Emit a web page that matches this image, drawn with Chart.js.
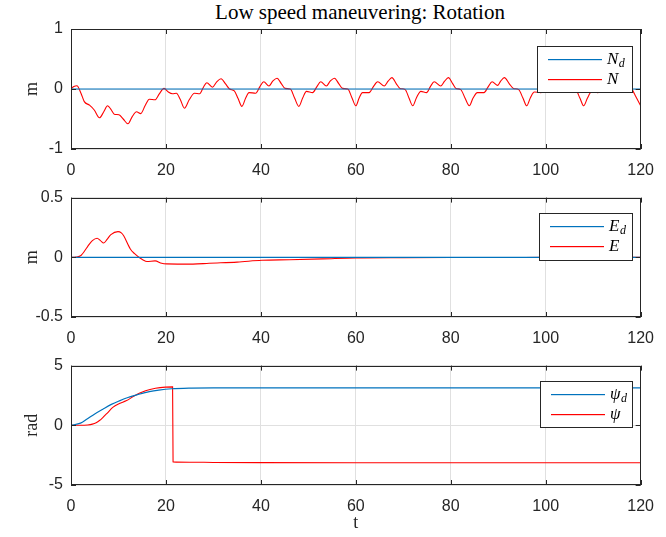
<!DOCTYPE html>
<html>
<head>
<meta charset="utf-8">
<script src="https://cdn.jsdelivr.net/npm/chart.js@4.4.0/dist/chart.umd.min.js"></script>
<style>
  body { margin: 0; background: #fff; width: 666px; height: 537px; overflow: hidden; position: relative; }
  canvas { position: absolute; left: 0; }
  #title { position: absolute; top: 2px; left: 71px; width: 578px; text-align: center;
           font: 21px "Liberation Serif", serif; line-height: 20px; color: #000; }
</style>
</head>
<body>
<div id="title">Low speed maneuvering: Rotation</div>
<canvas id="chartN" width="666" height="180" style="top:0"></canvas>
<canvas id="chartE" width="666" height="168" style="top:180px"></canvas>
<canvas id="chartPsi" width="666" height="189" style="top:348px"></canvas>
<script>

// north position (desired N_d is zero)
let tNd = [0, 120]
let Nd = [0, 0]
let tN = [0, 0.6, 1.25, 2.1, 2.8, 3.9, 4.9, 6.0, 6.9, 7.7, 8.5, 9.1, 10.1, 11.0, 12.0,
    12.9, 13.8, 14.7, 15.6, 16.5, 17.7, 18.6, 19.6, 20.5, 21.4, 22.2, 23.0, 23.9,
    24.9, 26.0, 27.1, 27.9, 28.6, 29.8, 30.7, 31.6, 32.6, 33.4, 34.4, 35.2, 36.0,
    36.8, 37.5, 38.9, 39.8, 40.6, 41.7, 42.5, 43.4, 44.3, 45.1, 46.2, 47.1, 48.0,
    48.8, 49.6, 50.9, 51.8, 52.6, 53.8, 54.6, 55.5, 56.4, 57.2, 58.3, 59.2, 60.0,
    60.7, 61.4, 62.8, 63.7, 64.6, 66.0, 66.8, 67.6, 68.5, 69.3, 70.4, 71.2, 72.0,
    72.8, 73.7, 74.9, 75.7, 76.5, 77.9, 78.7, 79.5, 80.4, 81.1, 82.1, 83.0, 83.9,
    84.7, 85.6, 87.0, 87.9, 88.7, 89.9, 90.5, 91.3, 92.3, 93.2, 94.3, 95.2, 96.0,
    96.8, 97.6, 99.0, 99.9, 100.6, 101.8, 102.6, 103.4, 104.4, 105.2, 106.3, 107.2, 108.0,
    108.8, 109.6, 111.0, 111.9, 112.6, 113.8, 114.6, 115.4, 116.7, 117.4, 118.1, 119.0, 120.0]
let N = [0, 0.04, 0.055, -0.07, -0.21, -0.27, -0.35, -0.48, -0.38, -0.28, -0.35, -0.42, -0.43, -0.50, -0.58,
    -0.46, -0.38, -0.41, -0.28, -0.17, -0.18, -0.08, 0.01, -0.05, -0.08, -0.07, -0.17, -0.32,
    -0.18, -0.07, -0.08, 0.03, 0.105, 0.03, 0.12, 0.17, 0.08, 0.0, -0.03, -0.16, -0.29,
    -0.15, -0.06, -0.07, 0.04, 0.12, 0.05, 0.13, 0.18, 0.09, 0.01, 0.0, -0.15, -0.29,
    -0.15, -0.04, -0.06, 0.04, 0.12, 0.05, 0.13, 0.18, 0.09, 0.01, 0.0, -0.15, -0.28,
    -0.15, -0.06, -0.06, 0.04, 0.12, 0.05, 0.13, 0.19, 0.09, 0.01, -0.01, -0.15, -0.28,
    -0.14, -0.04, -0.06, 0.04, 0.12, 0.05, 0.13, 0.19, 0.09, 0.01, -0.01, -0.15, -0.28,
    -0.15, -0.06, -0.06, 0.04, 0.12, 0.06, 0.13, 0.19, 0.09, 0.01, -0.01, -0.15, -0.28,
    -0.14, -0.05, -0.06, 0.04, 0.12, 0.05, 0.13, 0.19, 0.09, 0.01, -0.01, -0.15, -0.28,
    -0.15, -0.05, -0.06, 0.04, 0.12, 0.05, 0.13, 0.19, 0.065, 0.02, 0.0, -0.13, -0.28]

// east position (desired E_d is zero)
let tEd = [0, 120]
let Ed = [0, 0]
let tE = [0, 1.0, 2.1, 3.5, 4.5, 5.5, 6.2, 6.9, 7.6, 8.4, 9.9, 10.6, 11.1, 12.5, 13.4, 14.3,
    15.1, 16.0, 17.7, 19.1, 20.1, 25.7, 29.1, 35.0, 40.2, 46.0, 53.0, 60.0, 70, 80, 100, 120]
let E = [0, 0.002, 0.015, 0.09, 0.14, 0.16, 0.14, 0.12, 0.15, 0.19, 0.215, 0.205, 0.18, 0.07, 0.03, 0,
    -0.02, -0.035, -0.03, -0.05, -0.055, -0.057, -0.05, -0.04, -0.025, -0.02, -0.013, -0.005, -0.003, -0.002, -0.001, 0]

// heading, desired and actual (actual wraps at pi)
let tPsiD = [0, 2, 3.3, 5, 6.7, 8.5, 10.2, 12, 14.3, 16.5, 18.5, 21.2, 25.4, 30, 40, 120]
let psiD = [0, 0.18, 0.5, 0.95, 1.35, 1.75, 2.05, 2.33, 2.6, 2.82, 2.95, 3.06, 3.12, 3.14, 3.14, 3.14]
let tPsi = [0, 2, 3.5, 4.5, 5.3, 6.0, 6.7, 7.7, 8.8, 10.2, 11.6, 13.3, 14.5, 15.7, 17.8, 19.9, 21.4,
    21.5, 25, 30, 40, 60, 120]
let psi = [0, 0, 0.03, 0.1, 0.22, 0.4, 0.65, 1.05, 1.5, 1.82, 2.05, 2.45, 2.7, 2.9, 3.1, 3.2, 3.22,
    -3.06, -3.09, -3.11, -3.13, -3.14, -3.14]

let BLUE = '#0072BD'
let RED = '#FF0000'
let INK = '#262626'

// legend boxes, keyed by canvas id
let LEGENDS = {
    chartN: { x: 537, y: 46, w: 95, h: 46, items: [['N', 'd', BLUE], ['N', '', RED]] },
    chartE: { x: 539, y: 33, w: 93, h: 47, items: [['E', 'd', BLUE], ['E', '', RED]] },
    chartPsi: { x: 540, y: 33, w: 92, h: 46, items: [['ψ', 'd', BLUE], ['ψ', '', RED]] }
}

function points(xs, ys) {
    return xs.map((x, i) => ({ x: x, y: ys[i] }))
}

// box, inward ticks and legend drawn the way MATLAB axes look
let matlabAxes = {
    id: 'matlabAxes',
    afterDraw(chart) {
        let ctx = chart.ctx
        let a = chart.chartArea
        let sx = chart.scales.x
        let sy = chart.scales.y
        let len = 5
        ctx.save()
        ctx.strokeStyle = INK
        ctx.lineWidth = 1
        ctx.beginPath()
        sx.ticks.forEach(t => {
            let px = Math.round(sx.getPixelForValue(t.value)) + 0.5
            ctx.moveTo(px, a.bottom); ctx.lineTo(px, a.bottom - len)
            ctx.moveTo(px, a.top); ctx.lineTo(px, a.top + len)
        })
        sy.ticks.forEach(t => {
            let py = Math.round(sy.getPixelForValue(t.value)) + 0.5
            ctx.moveTo(a.left, py); ctx.lineTo(a.left + len, py)
            ctx.moveTo(a.right, py); ctx.lineTo(a.right - len, py)
        })
        ctx.stroke()
        ctx.strokeRect(Math.round(a.left) + 0.5, Math.round(a.top) + 0.5, Math.round(a.width) - 1, Math.round(a.height) - 1)

        let lg = LEGENDS[chart.canvas.id]
        ctx.fillStyle = '#fff'
        ctx.fillRect(lg.x, lg.y, lg.w, lg.h)
        ctx.strokeStyle = INK
        ctx.strokeRect(lg.x + 0.5, lg.y + 0.5, lg.w, lg.h)
        lg.items.forEach((it, i) => {
            let y = lg.y + 13 + i * 20
            // sample line as a thin filled strip
            ctx.fillStyle = it[2]
            ctx.fillRect(lg.x + 11, y, 54, 1.2)
            ctx.fillStyle = '#000'
            ctx.textBaseline = 'middle'
            ctx.font = 'italic 17px "Liberation Serif"'
            ctx.fillText(it[0], lg.x + 70, y + 0.5)
            if (it[1]) {
                let w = ctx.measureText(it[0]).width
                ctx.font = 'italic 12px "Liberation Serif"'
                ctx.fillText(it[1], lg.x + 70 + w + 0.5, y + 4.5)
            }
        })
        ctx.restore()
    }
}

function makeChart(id, cfg) {
    return new Chart(document.getElementById(id), {
        type: 'line',
        data: {
            datasets: [{
                data: points(cfg.tRef, cfg.ref),
                borderColor: BLUE,
                borderWidth: 1.2
            }, {
                data: points(cfg.t, cfg.val),
                borderColor: RED,
                borderWidth: 1.1
            }]
        },
        options: {
            responsive: false,
            animation: false,
            layout: { padding: { top: cfg.padTop, right: 17, left: 0, bottom: 0 } },
            elements: {
                point: { radius: 0 },
                line: { cubicInterpolationMode: 'monotone', fill: false }
            },
            plugins: {
                legend: { display: false },
                tooltip: { enabled: false }
            },
            scales: {
                x: {
                    type: 'linear',
                    min: 0,
                    max: 120,
                    ticks: { stepSize: 20, padding: 12, color: INK, font: { family: 'Liberation Sans', size: 16 } },
                    grid: { color: '#e0e0e0', drawTicks: false },
                    border: { display: false },
                    title: {
                        display: !!cfg.xTitle,
                        text: cfg.xTitle || '',
                        color: INK,
                        font: { family: 'Liberation Serif', size: 18 },
                        padding: { top: 0, bottom: 3 }
                    },
                    afterFit: s => { s.height = cfg.xHeight }
                },
                y: {
                    min: cfg.yMin,
                    max: cfg.yMax,
                    ticks: { stepSize: cfg.yStep, padding: 8, color: INK, font: { family: 'Liberation Sans', size: 16 } },
                    grid: { color: '#e0e0e0', drawTicks: false },
                    border: { display: false },
                    title: {
                        display: true,
                        text: cfg.yTitle,
                        color: INK,
                        font: { family: 'Liberation Serif', size: 18 },
                        padding: { top: 21, bottom: 0 }
                    },
                    afterFit: s => { s.width = 71 }
                }
            }
        },
        plugins: [matlabAxes]
    })
}

let chartN = makeChart('chartN', {
    tRef: tNd, ref: Nd, t: tN, val: N,
    yMin: -1, yMax: 1, yStep: 1, yTitle: 'm',
    padTop: 29, xHeight: 31
})

let chartE = makeChart('chartE', {
    tRef: tEd, ref: Ed, t: tE, val: E,
    yMin: -0.5, yMax: 0.5, yStep: 0.5, yTitle: 'm',
    padTop: 16, xHeight: 31
})

let chartPsi = makeChart('chartPsi', {
    tRef: tPsiD, ref: psiD, t: tPsi, val: psi,
    yMin: -5, yMax: 5, yStep: 5, yTitle: 'rad', xTitle: 't',
    padTop: 16, xHeight: 52
})
</script>
</body>
</html>
